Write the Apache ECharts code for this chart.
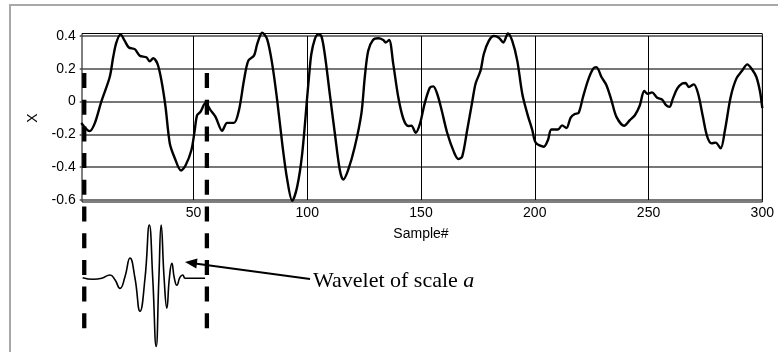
<!DOCTYPE html>
<html>
<head>
<meta charset="utf-8">
<script src="https://cdn.jsdelivr.net/npm/echarts@6/dist/echarts.min.js"></script>
<style>
html,body{margin:0;padding:0;background:#fff;}
#chart{width:778px;height:352px;}
</style>
</head>
<body>
<div id="chart"></div>
<script>
// ---- data ----
var sampleNo = [0.7,4.4,6.6,9.5,13.2,14.7,16.1,18,19.8,21.6,24.2,26.4,29.3,30.8,32.3,34.2,35.9,37.7,39.6,41.8,44.5,46.5,49.1,50.5,51.6,53.1,55.3,57.5,59.7,62.6,64.8,67.8,70,72.2,74.1,76.6,78,80.2,82.4,84.6,86.8,89,91.2,93.4,95.6,97.8,100,100.9,101.8,103.3,104.8,106.2,107.7,109.9,112.1,114.3,115.8,118,120.9,123.8,125.3,126.8,128.9,131.2,133.4,134.5,136,137.8,140,142.2,144.4,145.8,147.7,149.6,151.6,153.9,155.4,157.1,158.9,161.5,164.4,166.4,168.1,170.3,172.5,174,176.2,177.6,179.8,182,184.2,186.2,188.2,190.1,192.3,194.5,196.7,198.9,200.4,204,205.8,207.3,210.2,212,213.9,215.8,217.6,219.3,221.2,223.4,225.6,227.1,229.3,231.5,233.7,235.9,239.3,241.8,244,246.2,248.1,249.6,251.5,253.8,256,257.7,259.2,260.7,262.6,264.8,266.3,267.7,269.9,271.8,273.9,275.8,277.7,279.5,281.7,283.6,286.1,288.6,291.2,293.4,295.3,297.4,299,300];
var xValue = [-0.13,-0.18,-0.133,0.0,0.15,0.27,0.36,0.41,0.37,0.33,0.32,0.28,0.27,0.245,0.265,0.23,0.13,-0.03,-0.255,-0.345,-0.42,-0.39,-0.295,-0.18,-0.083,-0.062,-0.008,-0.052,-0.093,-0.178,-0.13,-0.13,-0.052,0.13,0.25,0.28,0.35,0.42,0.38,0.23,0.008,-0.255,-0.476,-0.605,-0.517,-0.315,0.03,0.17,0.29,0.38,0.41,0.40,0.29,0.048,-0.19,-0.416,-0.476,-0.416,-0.275,-0.073,0.15,0.31,0.376,0.386,0.376,0.36,0.376,0.23,0.028,-0.103,-0.149,-0.147,-0.19,-0.133,-0.012,0.085,0.093,0.048,-0.042,-0.19,-0.305,-0.35,-0.335,-0.173,-0.002,0.11,0.19,0.29,0.37,0.40,0.39,0.36,0.416,0.37,0.25,0.048,-0.073,-0.173,-0.25,-0.275,-0.234,-0.17,-0.17,-0.145,-0.161,-0.097,-0.076,-0.068,0.028,0.13,0.2,0.21,0.15,0.1,0.008,-0.093,-0.147,-0.113,-0.083,-0.022,0.065,0.048,0.056,0.024,0.012,-0.022,-0.032,0.018,0.079,0.11,0.113,0.089,0.105,0.048,-0.093,-0.214,-0.255,-0.25,-0.285,-0.173,0.028,0.14,0.19,0.227,0.2,0.15,0.06,-0.04];

// wavelet sketch below the axis (positions in sample units, relative amplitude)
var waveletT = [1.3,6.0,9.7,13.3,15.5,17.7,19.9,22.1,24.3,26.5,28.7,30.6,32.1,33.6,34.8,35.8,37.1,38.3,39.4,40.5,41.6,42.7,44.1,45.3,46.3,48.5,55.1];
var waveletA = [0.01,-0.02,0.0,0.06,-0.03,-0.19,0.03,0.38,0.0,-0.62,0.0,1.0,0.0,-1.28,0.0,1.0,0.0,-0.56,0.0,0.28,0.0,-0.13,0.02,0.06,0.0,0.0,0.0];

// analysis window boundaries (sample units)
var windowEdges = [2.0, 55.9];

var xTicks = {min: 0, max: 300, interval: 50};
var yTicks = {min: -0.6, max: 0.4, interval: 0.2};

var seriesData = sampleNo.map(function(s, i){ return [s, xValue[i]]; });
var waveData = waveletT.map(function(t, i){ return [t, waveletA[i]]; });

var chart = echarts.init(document.getElementById('chart'), null, {renderer: 'canvas'});

var fontSans = 'Liberation Sans, Arial, sans-serif';

var option = {
  animation: false,
  backgroundColor: '#fff',
  grid: [
    // 0: data grid (0..300, -0.6..0.4)
    {left: 79.7, right: 15.7, top: 36, bottom: 152, show: false},
    // 1: box frame
    {left: 82, right: 15.7, top: 33.5, bottom: 150, show: true, borderColor: '#000', borderWidth: 1, backgroundColor: 'transparent'},
    // 2: wavelet grid
    {left: 79.7, right: 15.7, top: 214.3, bottom: 1.8, show: false},
    // 3: dashed window lines
    {left: 79.7, right: 15.7, top: 73, bottom: 23.7, show: false}
  ],
  xAxis: [
    {gridIndex: 0, type: 'value', min: xTicks.min, max: xTicks.max, interval: xTicks.interval,
     axisLine: {show: false}, axisTick: {show: false},
     axisLabel: {showMinLabel: false, color: '#000', fontFamily: fontSans, fontSize: 14, margin: 6},
     splitLine: {show: true, showMinLine: false, lineStyle: {color: '#000', width: 1}},
     name: 'Sample#', nameLocation: 'middle', nameGap: 27,
     nameTextStyle: {color: '#000', fontFamily: fontSans, fontSize: 14}},
    {gridIndex: 1, type: 'value', min: 0, max: 1, show: false},
    {gridIndex: 2, type: 'value', min: xTicks.min, max: xTicks.max, show: false},
    {gridIndex: 3, type: 'value', min: xTicks.min, max: xTicks.max, show: false}
  ],
  yAxis: [
    {gridIndex: 0, type: 'value', min: yTicks.min, max: yTicks.max, interval: yTicks.interval,
     axisLine: {show: false}, axisTick: {show: false},
     axisLabel: {color: '#000', fontFamily: fontSans, fontSize: 14, margin: 4},
     splitLine: {show: true, lineStyle: {color: '#4a4a4a', width: 1.5}},
     name: 'X', nameLocation: 'middle', nameGap: 40, nameRotate: 90,
     nameTextStyle: {color: '#000', fontFamily: fontSans, fontSize: 14}},
    {gridIndex: 1, type: 'value', min: 0, max: 1, show: false},
    {gridIndex: 2, type: 'value', min: -1.35, max: 1.2, show: false},
    {gridIndex: 3, type: 'value', min: 0, max: 1, show: false}
  ],
  series: [
    {type: 'line', xAxisIndex: 0, yAxisIndex: 0, data: seriesData, smooth: 0.3, clip: false,
     showSymbol: false, symbol: 'none', lineStyle: {color: '#000', width: 2.4}, z: 5},
    {type: 'line', xAxisIndex: 2, yAxisIndex: 2, data: waveData, smooth: 0.5, clip: false,
     showSymbol: false, symbol: 'none', lineStyle: {color: '#000', width: 1.6}, z: 5},
    {type: 'line', xAxisIndex: 3, yAxisIndex: 3, data: [[windowEdges[0], 1], [windowEdges[0], 0]],
     showSymbol: false, symbol: 'none', clip: false,
     lineStyle: {color: '#000', width: 4.3, type: [15, 11.7], cap: 'butt'}, z: 6},
    {type: 'line', xAxisIndex: 3, yAxisIndex: 3, data: [[windowEdges[1], 1], [windowEdges[1], 0]],
     showSymbol: false, symbol: 'none', clip: false,
     lineStyle: {color: '#000', width: 4.3, type: [15, 11.7], cap: 'butt'}, z: 6}
  ],
  graphic: [
    {type: 'rect', shape: {x: 10, y: 5, width: 800, height: 400},
     style: {fill: 'none', stroke: '#a8a8a8', lineWidth: 2}, z: 0, silent: true},
    {type: 'line', shape: {x1: 310, y1: 279, x2: 195, y2: 263.5},
     style: {stroke: '#000', lineWidth: 2}, z: 10},
    {type: 'polygon', shape: {points: [[185, 262], [197.5, 258.6], [196.3, 268.4]]},
     style: {fill: '#000'}, z: 10},
    {type: 'text', x: 313, y: 281, z: 10,
     style: {text: '{n|Wavelet of scale }{i|a}', verticalAlign: 'middle', align: 'left',
       rich: {
         n: {fontFamily: 'Liberation Serif, Times New Roman, serif', fontSize: 22, fill: '#000'},
         i: {fontFamily: 'Liberation Serif, Times New Roman, serif', fontSize: 22, fontStyle: 'italic', fill: '#000'}
       }}}
  ]
};
chart.setOption(option);
</script>
</body>
</html>
